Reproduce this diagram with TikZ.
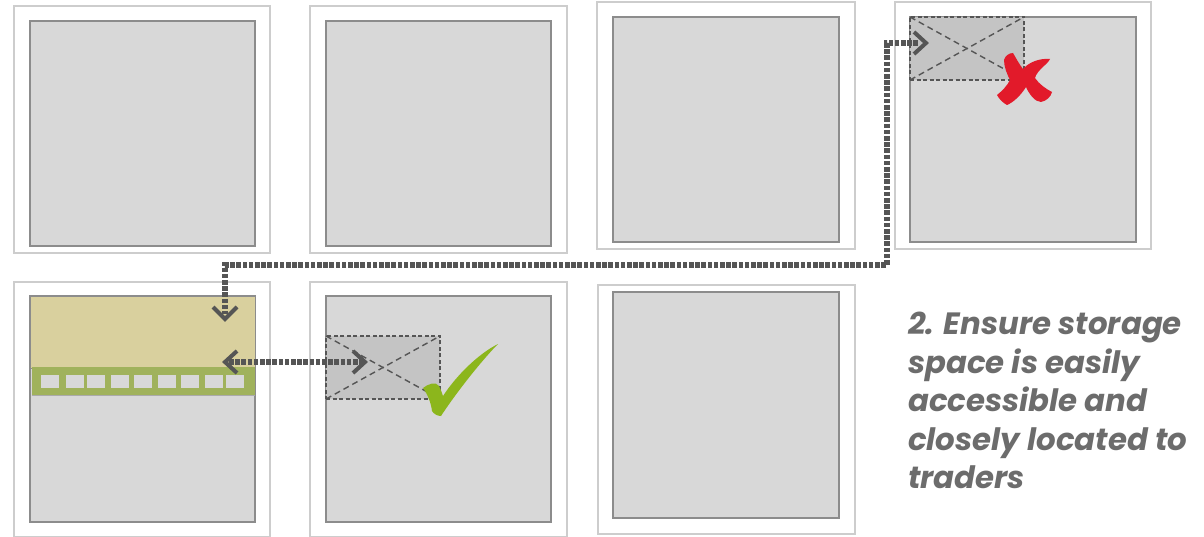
\documentclass[tikz,border=0pt]{standalone}
\usepackage{fontspec}
\usetikzlibrary{calc}
\setmainfont{Poppins}
\definecolor{frameg}{RGB}{205,205,205}
\definecolor{panelfill}{RGB}{216,216,216}
\definecolor{paneledge}{RGB}{140,140,140}
\definecolor{sand}{RGB}{217,208,158}
\definecolor{stall}{RGB}{160,178,92}
\definecolor{dark}{RGB}{85,85,85}
\definecolor{storefill}{RGB}{196,196,196}
\definecolor{crossred}{RGB}{226,26,42}
\definecolor{tickgreen}{RGB}{140,182,28}
\tikzset{
 outerbox/.style={draw=frameg,line width=1.5pt,fill=white,anchor=north west,minimum width=256pt,minimum height=247pt,inner sep=0pt,outer sep=0pt},
 innerbox/.style={draw=paneledge,line width=1.2pt,fill=panelfill,anchor=north west,minimum width=225pt,minimum height=225pt,inner sep=0pt,outer sep=0pt},
 storebox/.style={draw=dark,line width=1.4pt,dash pattern=on 4pt off 2.5pt,fill=storefill,anchor=north west,minimum width=114pt,minimum height=63pt,inner sep=0pt,outer sep=0pt},
 diag/.style={draw=dark,line width=1.4pt,dash pattern=on 6pt off 4pt},
 route/.style={draw=dark,line width=6pt,dash pattern=on 4.6pt off 1.6pt},
 chevron/.style={draw=dark,line width=4pt,line cap=butt},
 kiosk/.style={fill=panelfill,draw=none,anchor=north west,minimum width=17.5pt,minimum height=13pt,inner sep=0pt},
 caption/.style={anchor=north west,align=left,text=gray!85!black,font=\fontsize{30.8}{38.5}\selectfont\bfseries\itshape,inner sep=0pt}
}
\begin{document}
\begin{tikzpicture}[x=1pt,y=-1pt]
\useasboundingbox (0,0) rectangle (1204,537);
\node[outerbox] (o1) at (14,6) {};
\node[outerbox,minimum width=257pt] (o2) at (310,6) {};
\node[outerbox,minimum width=258pt] (o3) at (597,2) {};
\node[outerbox] (o4) at (895,2) {};
\node[outerbox,minimum height=255pt] (o5) at (14,282) {};
\node[outerbox,minimum width=257pt,minimum height=255pt] (o6) at (310,282) {};
\node[outerbox,minimum width=257pt,minimum height=249pt] (o7) at (598,285) {};
\node[innerbox] (p1) at (30,21) {};
\node[innerbox] (p2) at (326,21) {};
\node[innerbox,minimum width=226pt] (p3) at (613,17) {};
\node[innerbox,minimum width=226pt] (p4) at (910,17) {};
\node[innerbox,minimum height=226pt] (p5) at (30,296) {};
\node[innerbox,minimum height=226pt] (p6) at (326,296) {};
\node[innerbox,minimum width=226pt,minimum height=226pt] (p7) at (613,292) {};
% market band
\node[anchor=north west,fill=sand,draw=paneledge,line width=1.2pt,minimum width=225pt,minimum height=72pt,inner sep=0pt] (sandarea) at (30,296) {};
\node[anchor=north west,fill=stall,draw=none,minimum width=223pt,minimum height=28pt,inner sep=0pt] (stallrow) at (32,367) {};
\draw[line width=1pt,draw=paneledge!60!panelfill] (stallrow.south west) -- (stallrow.south east);
\foreach \n/\x in {a/41,b/66,c/87,d/111,e/134,f/158,g/181,h/205,i/226}
  \node[kiosk] (k\n) at (\x,375) {};
% storage boxes
\node[storebox] (s4) at (910,17) {};
\draw[diag] (s4.north west) -- (s4.south east);
\draw[diag] (s4.south west) -- (s4.north east);
\node[storebox] (s6) at (326,336) {};
\draw[diag] (s6.north west) -- (s6.south east);
\draw[diag] (s6.south west) -- (s6.north east);
% routes
\coordinate (r1) at (918,43);
\coordinate (r2) at (887,43);
\coordinate (r3) at (887,265);
\coordinate (r4) at (225,265);
\coordinate (r5) at (225,314);
\coordinate (r6) at (229,362);
\coordinate (r7) at (362,362);
\draw[route] (r1) -- (r2) -- (r3) -- (r4) -- (r5);
\draw[route] (r6) -- (r7);
% arrow heads
\coordinate (h4) at (926,43);
\draw[chevron] ($(h4)+(-12,-11)$) -- (h4) -- ($(h4)+(-12,11)$);
\coordinate (h5) at (225,319);
\draw[chevron] ($(h5)+(-12,-12)$) -- (h5) -- ($(h5)+(12,-12)$);
\coordinate (h6) at (225,362);
\draw[chevron] ($(h6)+(12,-11)$) -- (h6) -- ($(h6)+(12,11)$);
\coordinate (h7) at (365,362);
\draw[chevron] ($(h7)+(-12,-11)$) -- (h7) -- ($(h7)+(-12,11)$);
% red cross
\fill[crossred] (1004,60) .. controls (1005,56) and (1009,53) .. (1013,53)
 .. controls (1016,58) and (1019,64) .. (1023,69)
 .. controls (1029,62) and (1040,58) .. (1050,59)
 .. controls (1048,64) and (1037,70) .. (1035,78)
 .. controls (1039,84) and (1046,89) .. (1052,92)
 .. controls (1051,97) and (1046,101) .. (1041,102)
 .. controls (1035,102) and (1029,94) .. (1026,87)
 .. controls (1021,95) and (1014,102) .. (1007,105)
 .. controls (1003,103) and (999,99) .. (997,95)
 .. controls (1002,91) and (1007,86) .. (1010,80)
 .. controls (1007,74) and (1004,67) .. (1004,60) -- cycle;
% green tick
\fill[tickgreen] (423,388) .. controls (428,384) and (436,381) .. (439,386)
 .. controls (441,390) and (442,393) .. (443,396)
 .. controls (456,376) and (478,354) .. (498,344)
 .. controls (484,358) and (458,390) .. (441,416)
 .. controls (437,416) and (434,414) .. (432,411)
 .. controls (431,403) and (428,395) .. (423,388) -- cycle;
\node[caption] (cap) at (908,312) {2. Ensure storage\\space is easily\\accessible and\\closely located to\\traders};
\end{tikzpicture}
\end{document}
